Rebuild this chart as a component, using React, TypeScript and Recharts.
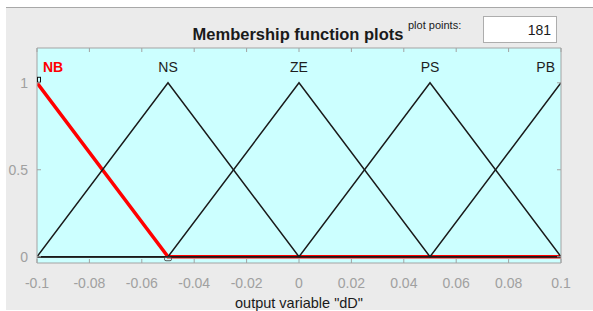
import React from 'react';
import { LineChart, Line, XAxis, YAxis, CartesianGrid, ReferenceDot } from 'recharts';

// Membership function vertices (output variable "dD")
const xPoints = [-0.1, -0.05, 0, 0.05, 0.1];
const nbValues = [1, 0, 0, 0, 0];
const nsValues = [0, 1, 0, 0, 0];
const zeValues = [0, 0, 1, 0, 0];
const psValues = [0, 0, 0, 1, 0];
const pbValues = [0, 0, 0, 0, 1];

const mfNames = ['NB', 'NS', 'ZE', 'PS', 'PB'];
const mfPeaks = [-0.1, -0.05, 0, 0.05, 0.1];
const selectedMf = 'NB';

const xTicks = [-0.1, -0.08, -0.06, -0.04, -0.02, 0, 0.02, 0.04, 0.06, 0.08, 0.1];
const yTicks = [0, 0.5, 1];
const plotPoints = '181';

const data = xPoints.map((x, i) => ({
  x,
  NB: nbValues[i],
  NS: nsValues[i],
  ZE: zeValues[i],
  PS: psValues[i],
  PB: pbValues[i],
}));

const FONT = '"Liberation Sans", Arial, Helvetica, sans-serif';
const AXIS_GRAY = '#a3a3a3';
const TICK_TEXT = '#a0a0a0';

const fmt = (v: number) => String(Number(v.toFixed(2)));

const BottomTick = (props: any) => {
  const { x, y, payload } = props;
  return (
    <g>
      <line x1={x} x2={x} y1={y} y2={y - 4} stroke={AXIS_GRAY} strokeWidth={1} />
      <text x={x} y={y + 25} textAnchor="middle" fill={TICK_TEXT} fontSize={14} fontFamily={FONT}>
        {fmt(payload.value)}
      </text>
    </g>
  );
};

const TopTick = (props: any) => {
  const { x, y } = props;
  return <line x1={x} x2={x} y1={y} y2={y + 4} stroke={AXIS_GRAY} strokeWidth={1} />;
};

const LeftTick = (props: any) => {
  const { x, y, payload } = props;
  return (
    <g>
      <line x1={x} x2={x + 4} y1={y} y2={y} stroke={AXIS_GRAY} strokeWidth={1} />
      <text x={x - 9} y={y + 5} textAnchor="end" fill={TICK_TEXT} fontSize={14} fontFamily={FONT}>
        {fmt(payload.value)}
      </text>
    </g>
  );
};

const RightTick = (props: any) => {
  const { x, y } = props;
  return <line x1={x} x2={x - 4} y1={y} y2={y} stroke={AXIS_GRAY} strokeWidth={1} />;
};

const nbDot = (p: any) => {
  const { cx, cy, index } = p;
  if (index === 0) {
    return (
      <rect key={`d${index}`} x={cx + 0.5} y={cy - 5.5} width={3} height={5} fill="none" stroke="#111" strokeWidth={1} />
    );
  }
  if (index === 1) {
    return (
      <rect key={`d${index}`} x={cx - 3.5} y={cy + 0.5} width={7} height={3.5} rx={1.5} fill="none" stroke="#555" strokeWidth={1} />
    );
  }
  return <g key={`d${index}`} />;
};

const makeLabel = (name: string, i: number) => (p: any) => {
  const { cx, cy } = p;
  const isSel = name === selectedMf;
  let anchor: 'start' | 'middle' | 'end' = 'middle';
  let dx = 0;
  if (i === 0) { anchor = 'start'; dx = 6; }
  if (i === mfNames.length - 1) { anchor = 'end'; dx = -6; }
  return (
    <text
      x={cx + dx}
      y={cy + 5}
      textAnchor={anchor}
      fill={isSel ? '#ff0000' : '#1e1e1e'}
      fontWeight={isSel ? 'bold' : 'normal'}
      fontSize={14}
      fontFamily={FONT}
    >
      {name}
    </text>
  );
};

export default function App() {
  return (
    <div style={{ position: 'absolute', left: 0, top: 0, width: 593, height: 311, background: '#ffffff', overflow: 'hidden', fontFamily: FONT }}>
      <div style={{ position: 'absolute', left: 6, top: 7, width: 587, height: 302, background: '#ebebeb', borderTop: '1px solid #a8a8a8' }} />
      {/* title */}
      <div style={{ position: 'absolute', left: 148, width: 300, top: 24, textAlign: 'center', fontSize: 16.5, fontWeight: 'bold', color: '#1a1a1a', lineHeight: '20px' }}>
        Membership function plots
      </div>
      {/* plot points label */}
      <div style={{ position: 'absolute', left: 408, top: 19, fontSize: 11, lineHeight: '12px', color: '#1a1a1a', whiteSpace: 'nowrap' }}>
        plot points:
      </div>
      {/* plot points box */}
      <div style={{ position: 'absolute', left: 483, top: 16, width: 74, height: 27, background: '#ffffff', border: '1px solid #adadad', boxSizing: 'border-box', textAlign: 'right', fontSize: 14, lineHeight: '26px', paddingRight: 5, color: '#1a1a1a' }}>
        {plotPoints}
      </div>
      {/* x axis label */}
      <div style={{ position: 'absolute', left: 149, width: 300, top: 296, textAlign: 'center', fontSize: 14.5, lineHeight: '15px', color: '#1a1a1a' }}>
        output variable "dD"
      </div>
      <div style={{ position: 'absolute', left: 0, top: 0 }}>
        <LineChart width={593} height={311} data={data} margin={{ top: 47, right: 31, bottom: 18, left: 7 }} style={{ overflow: 'visible' }}>
          <CartesianGrid horizontal={false} vertical={false} fill="#ccffff" fillOpacity={1} />
          <XAxis
            dataKey="x"
            type="number"
            domain={[-0.1, 0.1]}
            ticks={xTicks}
            allowDataOverflow
            height={30}
            tickSize={0}
            tickMargin={0}
            tick={<BottomTick />}
            axisLine={{ stroke: AXIS_GRAY }}
            tickLine={false}
            interval={0}
          />
          <XAxis
            xAxisId="top"
            orientation="top"
            dataKey="x"
            type="number"
            domain={[-0.1, 0.1]}
            ticks={xTicks}
            allowDataOverflow
            height={1}
            tickSize={0}
            tickMargin={0}
            tick={<TopTick />}
            axisLine={{ stroke: AXIS_GRAY }}
            tickLine={false}
            interval={0}
          />
          <YAxis
            type="number"
            domain={[-0.036, 1.2]}
            ticks={yTicks}
            allowDataOverflow
            width={30}
            tickSize={0}
            tickMargin={0}
            tick={<LeftTick />}
            axisLine={{ stroke: AXIS_GRAY }}
            tickLine={false}
            interval={0}
          />
          <YAxis
            yAxisId="right"
            orientation="right"
            type="number"
            domain={[-0.036, 1.2]}
            ticks={yTicks}
            allowDataOverflow
            width={1}
            tickSize={0}
            tickMargin={0}
            tick={<RightTick />}
            axisLine={{ stroke: AXIS_GRAY }}
            tickLine={false}
            interval={0}
          />
          <Line dataKey="NB" type="linear" stroke="#ff0000" strokeWidth={3.5} dot={nbDot} activeDot={false} isAnimationActive={false} />
          <Line dataKey="NS" type="linear" stroke="#1a1a1a" strokeWidth={1.5} dot={false} activeDot={false} isAnimationActive={false} />
          <Line dataKey="ZE" type="linear" stroke="#1a1a1a" strokeWidth={1.5} dot={false} activeDot={false} isAnimationActive={false} />
          <Line dataKey="PS" type="linear" stroke="#1a1a1a" strokeWidth={1.5} dot={false} activeDot={false} isAnimationActive={false} />
          <Line dataKey="PB" type="linear" stroke="#1a1a1a" strokeWidth={1.5} dot={false} activeDot={false} isAnimationActive={false} />
          {mfNames.map((name, i) => (
            <ReferenceDot key={name} x={mfPeaks[i]} y={1.09} r={0} shape={makeLabel(name, i)} ifOverflow="visible" />
          ))}
        </LineChart>
      </div>
    </div>
  );
}
